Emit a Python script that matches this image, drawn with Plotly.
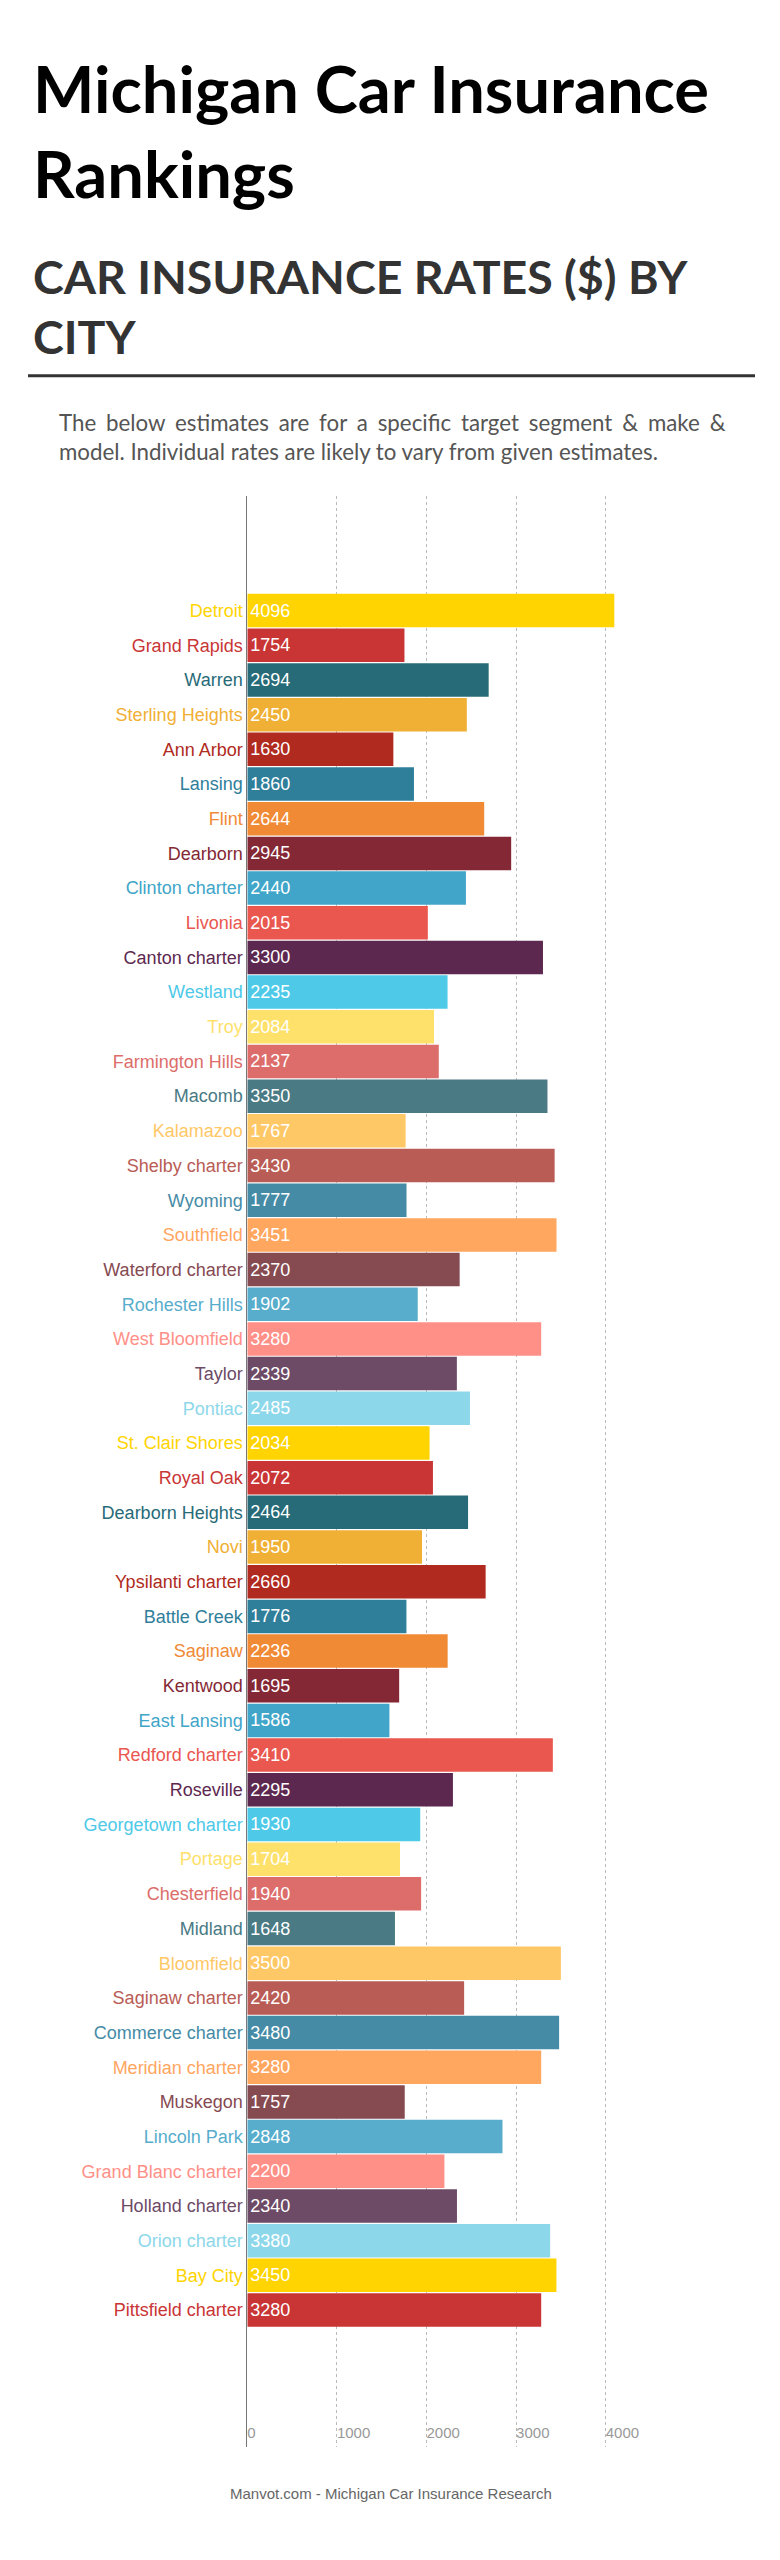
import plotly.graph_objects as go

# ---------------- data ----------------
cities = [
    "Detroit", "Grand Rapids", "Warren", "Sterling Heights", "Ann Arbor",
    "Lansing", "Flint", "Dearborn", "Clinton charter", "Livonia",
    "Canton charter", "Westland", "Troy", "Farmington Hills", "Macomb",
    "Kalamazoo", "Shelby charter", "Wyoming", "Southfield", "Waterford charter",
    "Rochester Hills", "West Bloomfield", "Taylor", "Pontiac", "St. Clair Shores",
    "Royal Oak", "Dearborn Heights", "Novi", "Ypsilanti charter", "Battle Creek",
    "Saginaw", "Kentwood", "East Lansing", "Redford charter", "Roseville",
    "Georgetown charter", "Portage", "Chesterfield", "Midland", "Bloomfield",
    "Saginaw charter", "Commerce charter", "Meridian charter", "Muskegon", "Lincoln Park",
    "Grand Blanc charter", "Holland charter", "Orion charter", "Bay City", "Pittsfield charter",
]
rates = [
    4096, 1754, 2694, 2450, 1630,
    1860, 2644, 2945, 2440, 2015,
    3300, 2235, 2084, 2137, 3350,
    1767, 3430, 1777, 3451, 2370,
    1902, 3280, 2339, 2485, 2034,
    2072, 2464, 1950, 2660, 1776,
    2236, 1695, 1586, 3410, 2295,
    1930, 1704, 1940, 1648, 3500,
    2420, 3480, 3280, 1757, 2848,
    2200, 2340, 3380, 3450, 3280,
]
palette = [
    "#FFD400", "#C93535", "#286B78", "#F0B035", "#B02A20", "#2F7E9A",
    "#F08A35", "#832834", "#40A5C8", "#E9574E", "#5D2850", "#4EC9E8",
    "#FEE16A", "#DC6D6A", "#4A7A84", "#FFC867", "#B95C55", "#468BA6",
    "#FFA65F", "#864A51", "#57ADCB", "#FF9088", "#6D4A66", "#8DD7EA",
]
x_ticks = [0, 1000, 2000, 3000, 4000]
x_tick_labels = ["0", "1000", "2000", "3000", "4000"]

title_text = "Michigan Car Insurance<br>Rankings"
subtitle_text = "CAR INSURANCE RATES ($) BY<br>CITY"
desc_line1 = "The below estimates are for a specific target segment & make &"
desc_line2 = "model. Individual rates are likely to vary from given estimates."
footer_text = "Manvot.com - Michigan Car Insurance Research"

# ---------------- layout helpers ----------------
W, H = 780, 2560
OFF = 8  # page body margin of the html page
def px(x):
    return (x - OFF) / W
def py(y):
    return 1 - (y - OFF) / H

NARROW = "Liberation Sans Narrow, Arial Narrow, Liberation Sans, Arial, sans-serif"
SANS = "Lato, Open Sans, sans-serif"

colors = [palette[i % len(palette)] for i in range(len(cities))]

fig = go.Figure(
    go.Bar(
        x=rates,
        y=cities,
        orientation="h",
        marker=dict(color=colors, line=dict(width=0)),
        text=[str(v) for v in rates],
        textposition="inside",
        insidetextanchor="start",
        textfont=dict(family=NARROW, size=18, color="white"),
        hoverinfo="skip",
    )
)

ticktext = [f"<span style='color:{c}'>{n}</span>" for n, c in zip(cities, colors)]

fig.update_layout(
    width=W,
    height=H,
    margin=dict(l=0, r=0, t=0, b=0, autoexpand=False),
    paper_bgcolor="white",
    plot_bgcolor="white",
    showlegend=False,
    bargap=0.034,
    xaxis=dict(
        domain=[px(247.3), px(650.5)],
        range=[0, 4500],
        tickvals=x_ticks,
        ticktext=x_tick_labels,
        ticks="",
        ticklabelposition="inside right",
        ticklabeloverflow="allow",
        tickfont=dict(family=NARROW, size=15, color="#999999"),
        showgrid=True,
        gridcolor="#BBBBBB",
        griddash="dot",
        gridwidth=1,
        zeroline=False,
        showline=False,
        fixedrange=True,
    ),
    yaxis=dict(
        domain=[py(2447), py(496)],
        categoryorder="array",
        categoryarray=cities,
        range=[52.95, -3.305],
        tickvals=cities,
        ticktext=ticktext,
        ticks="",
        tickfont=dict(family=NARROW, size=18),
        showgrid=False,
        zeroline=False,
        showline=True,
        linecolor="#777777",
        linewidth=1,
        fixedrange=True,
    ),
)

gap = " \u2009\u200a"
ann = []
ann.append(dict(text=title_text, x=px(31), y=py(47), xref="paper", yref="paper",
                xanchor="left", yanchor="top", align="left", showarrow=False,
                font=dict(family=SANS, size=65, color="#000000", weight="bold")))
ann.append(dict(text=subtitle_text, x=px(31), y=py(246), xref="paper", yref="paper",
                xanchor="left", yanchor="top", align="left", showarrow=False,
                font=dict(family=SANS, size=46.5, color="#333333", weight="bold")))
ann.append(dict(text=desc_line1.replace(" ", gap), x=px(57), y=py(422), xref="paper", yref="paper",
                xanchor="left", yanchor="middle", align="left", showarrow=False,
                font=dict(family=SANS, size=22.3, color="#555555")))
ann.append(dict(text=desc_line2, x=px(57), y=py(451), xref="paper", yref="paper",
                xanchor="left", yanchor="middle", align="left", showarrow=False,
                font=dict(family=SANS, size=22.3, color="#555555")))
ann.append(dict(text=footer_text, x=px(391), y=py(2493), xref="paper", yref="paper",
                xanchor="center", yanchor="middle", showarrow=False,
                font=dict(family=NARROW, size=15, color="#666666")))
fig.update_layout(annotations=ann)

fig.add_shape(type="line", xref="paper", yref="paper",
              x0=px(28), x1=px(755), y0=py(375.7), y1=py(375.7),
              line=dict(color="#333333", width=3))

fig.write_html("out.html")
